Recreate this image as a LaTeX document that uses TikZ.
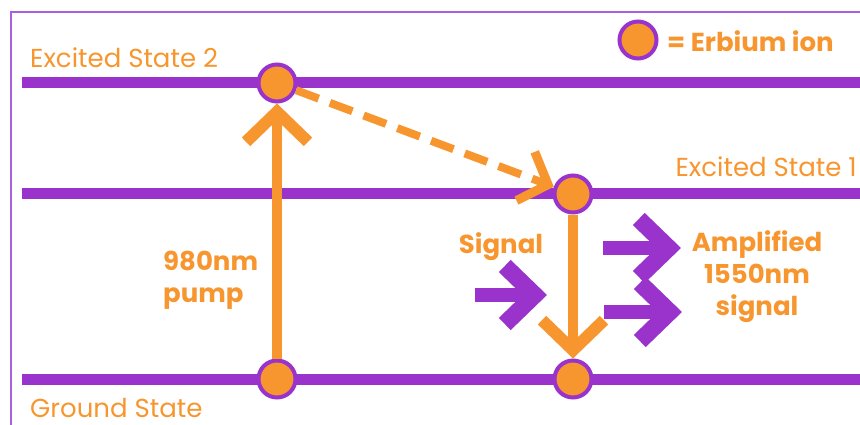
\documentclass[tikz,border=0pt]{standalone}
\usepackage{fontspec}
\setmainfont{Poppins}
\usetikzlibrary{arrows.meta}
\definecolor{erorange}{HTML}{F7962F}
\definecolor{erpurple}{HTML}{9933CC}
\definecolor{framecol}{HTML}{A860DC}
\begin{document}
\begin{tikzpicture}[x=1pt,y=-1pt,
  level/.style={erpurple, line width=11pt},
  ion/.style={circle, fill=erorange, draw=erpurple, line width=4pt, minimum size=37pt, inner sep=0pt},
  orangearrow/.style={erorange, line width=10pt, -{Straight Barb[length=30pt,width=62pt,line width=12pt,sharp]}},
  dasharrow/.style={erorange, line width=8pt, dash pattern=on 24pt off 12pt, -{Straight Barb[length=24pt,width=52pt,line width=9pt,sharp]}},
  beamarrow/.style={erpurple, line width=14pt, -{Straight Barb[length=30pt,width=58pt,line width=17pt,sharp]}},
  lbl/.style={erorange, font=\fontsize{26}{30}\selectfont, inner sep=0pt},
  blbl/.style={erorange, font=\fontsize{26}{32}\bfseries\selectfont, inner sep=0pt}]
\useasboundingbox (0,0) rectangle (860,425);
% frame
\draw[framecol, line width=2pt] (11,425) -- (11,12) -- (860,12);
% energy levels
\draw[level] (22,83) -- (860,83);
\draw[level] (22,194) -- (860,194);
\draw[level] (22,379) -- (860,379);
% ions
\node[ion] (e2) at (277,83) {};
\node[ion] (e1) at (573,194) {};
\node[ion] (g1) at (277,379) {};
\node[ion] (g2) at (573,379) {};
\node[ion] (key) at (638,40) {};
% transitions
\draw[orangearrow] (g1) -- (e2);
\draw[orangearrow] (e1) -- (g2);
\draw[dasharrow] (e2) -- (e1);
% beams
\coordinate (s0) at (475,295); \coordinate (s1) at (547,295);
\coordinate (a0) at (603,248); \coordinate (a1) at (681,248);
\coordinate (b0) at (604,312); \coordinate (b1) at (682,312);
\draw[beamarrow] (s0) -- (s1);
\draw[beamarrow] (a0) -- (a1);
\draw[beamarrow] (b0) -- (b1);
% labels
\node[lbl, anchor=base west] (l2) at (30,68) {Excited State 2};
\node[lbl, anchor=base east] (l1) at (857,177) {Excited State 1};
\node[lbl, anchor=base west] (l0) at (30,417) {Ground State};
\node[blbl, anchor=base west] (keytxt) at (667,52) {= Erbium ion};
\node[blbl, anchor=west, align=left] (pump) at (163,280) {980nm\\pump};
\node[blbl] (sig) at (501,247) {Signal};
\node[blbl, align=center] (amp) at (757,277) {Amplified\\1550nm\\signal};
\end{tikzpicture}
\end{document}
